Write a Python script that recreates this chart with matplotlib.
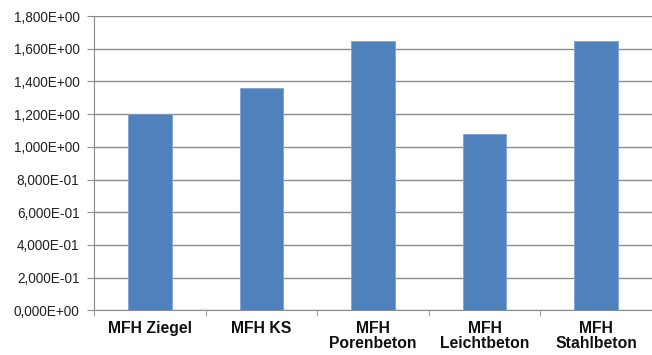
import matplotlib.pyplot as plt
import numpy as np
from matplotlib.ticker import FuncFormatter, FixedLocator

# Werte je Gebäudetyp
kategorien = ["MFH Ziegel", "MFH KS", "MFH\nPorenbeton", "MFH\nLeichtbeton", "MFH\nStahlbeton"]
werte = [1.20, 1.36, 1.645, 1.077, 1.645]
y_ticks = np.arange(0, 1.81, 0.2)

plt.rcParams['font.family'] = ['Liberation Sans', 'DejaVu Sans']

fig = plt.figure(figsize=(6.52, 3.55), dpi=100)
ax = fig.add_axes([94 / 652, 44.7 / 355, 1 - 94 / 652, (310.3 - 16) / 355])

x = np.arange(len(kategorien))
ax.bar(x, werte, width=0.39, color='#4F81BD', edgecolor='#7EA3D3', linewidth=0.6, zorder=3)

ax.set_xlim(-0.5, 4.47)
ax.set_ylim(0, 1.8)

def fmt(v, pos):
    return f"{v:.3E}".replace('.', ',')

ax.yaxis.set_major_locator(FixedLocator(y_ticks))
ax.yaxis.set_major_formatter(FuncFormatter(fmt))
ax.grid(axis='y', color='#8C8C8C', linewidth=1.0, zorder=0)

ax.set_xticks(x)
ax.set_xticklabels(kategorien, fontweight='bold', fontsize=11.3, color='#111111', linespacing=0.95)
ax.set_xticks(np.arange(-0.5, 5, 1), minor=True)
ax.tick_params(axis='x', which='major', length=0, pad=8)
ax.tick_params(axis='x', which='minor', length=4, color='#8C8C8C', direction='out')
ax.tick_params(axis='y', length=5, color='#8C8C8C', direction='out', pad=5.5,
               labelsize=9.8, labelcolor='#222222')

for side in ['top', 'right']:
    ax.spines[side].set_visible(False)
ax.spines['left'].set_color('#8C8C8C')
ax.spines['bottom'].set_color('#8C8C8C')

fig.savefig('out.png', dpi=100)
